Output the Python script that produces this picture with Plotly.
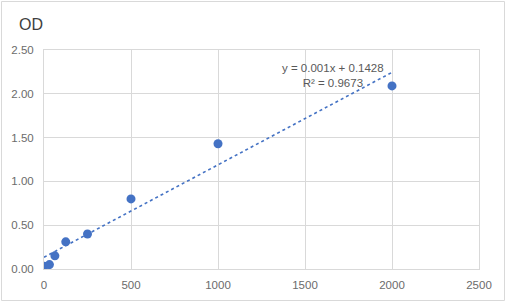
import numpy as np
import plotly.graph_objects as go

concentration = [0, 31.25, 62.5, 125, 250, 500, 1000, 2000]
od = [0.03, 0.05, 0.15, 0.31, 0.40, 0.80, 1.43, 2.09]
x_ticks = [0, 500, 1000, 1500, 2000, 2500]
y_ticks = [0, 0.5, 1.0, 1.5, 2.0, 2.5]
equation_text = "y = 0.001x + 0.1428<br>R² = 0.9673"

slope, intercept = np.polyfit(concentration, od, 1)
fit_x = [min(concentration), max(concentration)]
fit_y = [slope * v + intercept for v in fit_x]

W, H = 506, 302
ml, mr, mt, mb = 44, 27, 50, 33
blue = "#4472C4"
grid = "#d9d9d9"
font = "Liberation Sans"
tick_color = "#6b6b6b"

fig = go.Figure()
fig.add_trace(go.Scatter(x=fit_x, y=fit_y, mode="lines",
                         line=dict(color=blue, width=1.6, dash="dot"),
                         hoverinfo="skip", showlegend=False))
fig.add_trace(go.Scatter(x=concentration, y=od, mode="markers",
                         marker=dict(color=blue, size=9),
                         showlegend=False))

pw = W - ml - mr
ph = H - mt - mb
fig.add_shape(type="rect", xref="paper", yref="paper",
              x0=(-ml + 1.5) / pw, x1=1 + (mr - 1.5) / pw,
              y0=(-mb + 1.5) / ph, y1=1 + (mt - 1.5) / ph,
              line=dict(color="#d9d9d9", width=1), layer="below")

fig.add_annotation(x=1661, y=2.21, text=equation_text, showarrow=False,
                   font=dict(family=font, size=11.5, color="#595959"),
                   align="center", xanchor="center", yanchor="middle")

fig.update_layout(
    width=W, height=H,
    margin=dict(l=ml, r=mr, t=mt, b=mb, pad=0, autoexpand=False),
    paper_bgcolor="white", plot_bgcolor="white",
    title=dict(text="OD", x=19 / W, xanchor="left", y=1 - 24 / H, yanchor="middle",
               font=dict(family=font, size=16, color="#404040")),
    font=dict(family=font, size=11.5, color=tick_color),
    xaxis=dict(range=[0, 2500], tickvals=x_ticks, ticktext=[str(v) for v in x_ticks],
               showgrid=True, gridcolor=grid, gridwidth=1, automargin=False,
               showline=True, linecolor=grid, linewidth=1, mirror=True,
               zeroline=False, ticks="", ticklen=0, ticklabelstandoff=5,
               tickfont=dict(family=font, size=11.5, color=tick_color)),
    yaxis=dict(range=[0, 2.5], tickvals=y_ticks, ticktext=[f"{v:.2f}" for v in y_ticks],
               showgrid=True, gridcolor=grid, gridwidth=1, automargin=False,
               showline=True, linecolor=grid, linewidth=1, mirror=True,
               zeroline=False, ticks="", ticklen=0, ticklabelstandoff=7,
               tickfont=dict(family=font, size=11.5, color=tick_color)),
)
fig.write_html("out.html")
